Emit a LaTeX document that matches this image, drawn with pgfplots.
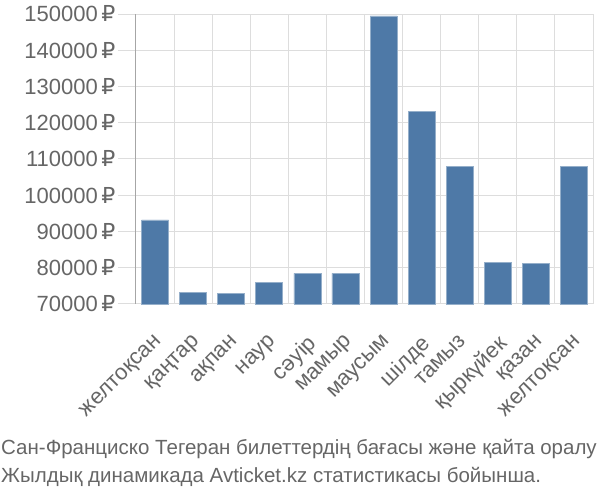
\documentclass[border=0pt]{standalone}
\usepackage{pgfplots}
\pgfplotsset{compat=1.18}
\usepackage{fontspec}
\setmainfont{Liberation Sans}
\newfontfamily\dejavu{DejaVu Sans}
\definecolor{barc}{HTML}{4E79A7}
\definecolor{txt}{HTML}{666666}
\definecolor{grd}{HTML}{DDDDDD}
\begin{document}
\begin{tikzpicture}[x=1pt,y=1pt]
\useasboundingbox (0,0) rectangle (600,500);
\begin{axis}[
  at={(136pt,196pt)}, anchor=south west,
  scale only axis, width=457pt, height=290pt,
  xmin=-0.5, xmax=11.5, ymin=70000, ymax=150000,
  ytick={70000,80000,...,150000},
  scaled y ticks=false,
  xtick={0,...,11},
  xticklabels={желтоқсан,қаңтар,ақпан,наур,сәуір,мамыр,маусым,шілде,тамыз,қыркүйек,қазан,желтоқсан},
  minor xtick={-0.5,0.5,...,11.5},
  xminorgrids, ymajorgrids,
  minor grid style={grd, line width=1pt},
  major grid style={grd, line width=1pt},
  axis x line*=bottom,
  axis y line*=left,
  x axis line style={draw=none},
  y axis line style={draw=gray!70, line width=1pt, -},
  tick align=outside,
  major tick length=18pt, minor tick length=16pt,
  xtick style={draw=none},
  minor tick style={grd, line width=1pt},
  ytick style={grd, line width=1pt},
  yticklabel={\pgfmathprintnumber[fixed,precision=0,1000 sep={}]{\tick}\,{\dejavu ₽}},
  /pgf/number format/assume math mode=true,
  yticklabel style={font=\fontsize{22}{22}\selectfont, text=txt, xshift=1pt},
  xticklabel style={font=\fontsize{22}{22}\selectfont, text=txt, rotate=45, anchor=north east, yshift=-6pt, xshift=-8pt, inner sep=1pt},
  clip=false,
]
\addplot[ybar, bar width=27pt, fill=barc, draw=barc!60!white, line width=0.6pt] coordinates {
(0,93200) (1,73300) (2,72950) (3,75900) (4,78450) (5,78450) (6,149450) (7,123150) (8,107900) (9,81400) (10,81200) (11,107900)};
\end{axis}
\node[anchor=base west, text=txt, font=\fontsize{20.5}{20.5}\selectfont, inner sep=0] at (1,45) {Сан-Франциско Тегеран билеттердің бағасы және қайта оралу};
\node[anchor=base west, text=txt, font=\fontsize{20.5}{20.5}\selectfont, inner sep=0] at (1,17) {Жылдық динамикада Avticket.kz статистикасы бойынша.};
\end{tikzpicture}
\end{document}
